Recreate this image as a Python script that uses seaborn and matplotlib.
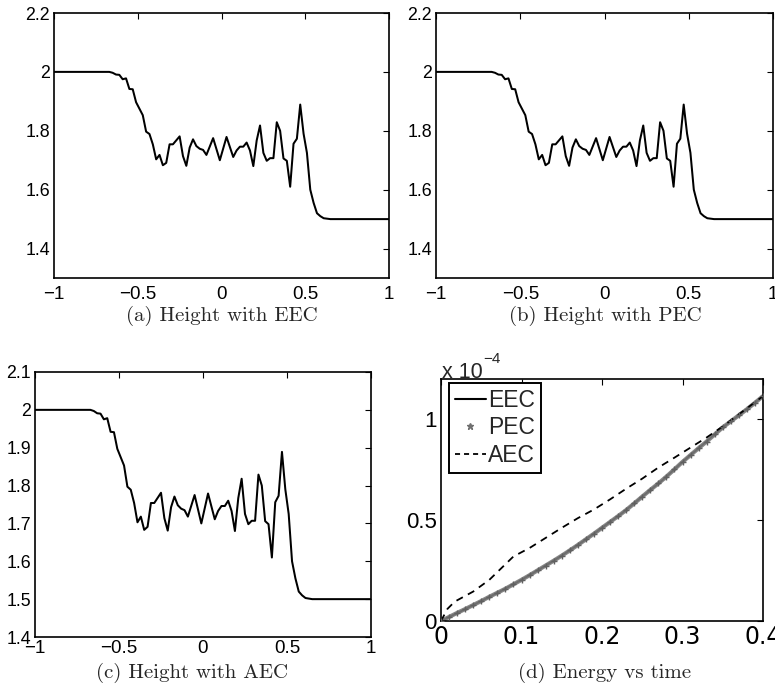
import numpy as np
import pandas as pd
import matplotlib
matplotlib.use("Agg")
import matplotlib.pyplot as plt
from matplotlib.lines import Line2D
import seaborn as sns

# ---------------- data ----------------
# height profile (same for EEC / PEC / AEC panels)
x_pos = [-1.00, -0.67, -0.65, -0.63, -0.61, -0.59, -0.57, -0.55, -0.53, -0.51,
         -0.49, -0.47, -0.45, -0.43, -0.41, -0.39, -0.37, -0.35, -0.33, -0.31,
         -0.29, -0.25, -0.23, -0.21, -0.19, -0.17, -0.15, -0.13, -0.11, -0.09,
         -0.05, -0.01, 0.03, 0.07, 0.09, 0.11, 0.13, 0.15, 0.17, 0.19,
         0.21, 0.23, 0.25, 0.27, 0.29, 0.31, 0.33, 0.35, 0.37, 0.39,
         0.41, 0.43, 0.45, 0.47, 0.49, 0.51, 0.53, 0.55, 0.57, 0.59,
         0.61, 0.65, 1.00]
height = [2.000, 2.000, 1.997, 1.991, 1.990, 1.975, 1.978, 1.942, 1.941, 1.897,
          1.875, 1.853, 1.797, 1.789, 1.754, 1.703, 1.718, 1.683, 1.691, 1.754,
          1.754, 1.781, 1.714, 1.681, 1.743, 1.771, 1.748, 1.739, 1.735, 1.718,
          1.775, 1.700, 1.779, 1.711, 1.733, 1.746, 1.746, 1.760, 1.733, 1.680,
          1.767, 1.818, 1.725, 1.698, 1.707, 1.707, 1.829, 1.800, 1.706, 1.698,
          1.610, 1.756, 1.773, 1.889, 1.790, 1.725, 1.600, 1.555, 1.520, 1.510,
          1.503, 1.500, 1.500]

# energy vs time (units of 1e-4)
t_eec = [0.0, 0.025, 0.05, 0.075, 0.1, 0.125, 0.15, 0.175, 0.2, 0.225,
         0.25, 0.275, 0.3, 0.325, 0.35, 0.375, 0.4]
e_eec = [0.000, 0.049, 0.099, 0.150, 0.204, 0.263, 0.324, 0.391, 0.462, 0.535,
         0.617, 0.698, 0.789, 0.874, 0.960, 1.035, 1.115]

t_pec = [0.00, 0.01, 0.02, 0.03, 0.04, 0.05, 0.06, 0.07, 0.08, 0.09,
         0.10, 0.11, 0.12, 0.13, 0.14, 0.15, 0.16, 0.17, 0.18, 0.19,
         0.20, 0.21, 0.22, 0.23, 0.24, 0.25, 0.26, 0.27, 0.28, 0.29,
         0.30, 0.31, 0.32, 0.33, 0.34, 0.35, 0.36, 0.37, 0.38, 0.39, 0.40]
e_pec = [0.000, 0.020, 0.040, 0.059, 0.079, 0.099, 0.120, 0.140, 0.160, 0.182,
         0.204, 0.227, 0.251, 0.275, 0.299, 0.324, 0.350, 0.377, 0.405, 0.433,
         0.462, 0.491, 0.520, 0.550, 0.583, 0.617, 0.650, 0.682, 0.716, 0.752,
         0.789, 0.823, 0.857, 0.890, 0.925, 0.960, 0.990, 1.020, 1.050, 1.082, 1.115]

t_aec = [0.0, 0.008, 0.017, 0.04, 0.06, 0.09, 0.11, 0.13, 0.15, 0.17,
         0.19, 0.21, 0.23, 0.25, 0.27, 0.29, 0.31, 0.33, 0.35, 0.37, 0.4]
e_aec = [0.000, 0.060, 0.096, 0.146, 0.204, 0.320, 0.362, 0.412, 0.462, 0.510,
         0.553, 0.603, 0.656, 0.706, 0.761, 0.810, 0.860, 0.910, 0.965, 1.025, 1.115]

captions = ["(a) Height with EEC", "(b) Height with PEC",
            "(c) Height with AEC", "(d) Energy vs time"]

# ---------------- style ----------------
sns.set_theme(style="white")
plt.rcParams.update({
    "font.family": ["Liberation Sans", "DejaVu Sans"],
    "xtick.direction": "in", "ytick.direction": "in",
    "xtick.top": True, "ytick.right": True,
    "xtick.major.size": 4, "ytick.major.size": 4,
    "xtick.major.width": 0.8, "ytick.major.width": 0.8,
    "xtick.color": "black", "ytick.color": "black",
    "axes.edgecolor": "black", "axes.linewidth": 1.2,
})

W, H = 775, 692
fig = plt.figure(figsize=(W / 100, H / 100), dpi=100)


def add_ax(l, t, r, b):
    return fig.add_axes([l / W, 1 - b / H, (r - l) / W, (b - t) / H])


ax_a = add_ax(54, 13, 389, 278)
ax_b = add_ax(436, 13, 773, 278)
ax_c = add_ax(35, 372, 371, 637)
ax_d = add_ax(441, 379, 763, 621)

df_h = pd.DataFrame({"x": x_pos, "h": height})

xt = [-1, -0.5, 0, 0.5, 1]
xtl = ["\u22121", "\u22120.5", "0", "0.5", "1"]

for ax in (ax_a, ax_b, ax_c):
    sns.lineplot(data=df_h, x="x", y="h", ax=ax, color="black", lw=1.45)
    ax.set_xlim(-1, 1)
    ax.set_xticks(xt)
    ax.set_xticklabels(xtl)
    ax.set_xlabel("")
    ax.set_ylabel("")

for ax in (ax_a, ax_b):
    ax.set_ylim(1.3, 2.2)
    ax.set_yticks([1.4, 1.6, 1.8, 2.0, 2.2])
    ax.set_yticklabels(["1.4", "1.6", "1.8", "2", "2.2"])
    ax.tick_params(axis="x", labelsize=13.5, pad=6)
    ax.tick_params(axis="y", labelsize=12.8, pad=3)

ax_c.set_ylim(1.4, 2.1)
ax_c.set_yticks([1.4, 1.5, 1.6, 1.7, 1.8, 1.9, 2.0, 2.1])
ax_c.set_yticklabels(["1.4", "1.5", "1.6", "1.7", "1.8", "1.9", "2", "2.1"])
ax_c.tick_params(axis="x", labelsize=13.5, pad=2)
ax_c.tick_params(axis="y", labelsize=12.8, pad=3)

# energy panel
sns.lineplot(x=t_eec, y=e_eec, ax=ax_d, color="black", lw=1.4)
sns.lineplot(x=t_pec, y=e_pec, ax=ax_d, color="#7a7a7a", lw=3.0, alpha=0.9)
sns.scatterplot(x=t_pec, y=e_pec, ax=ax_d, color="#606060", marker="+",
                s=22, linewidth=1.0, zorder=3)
sns.lineplot(x=t_aec, y=e_aec, ax=ax_d, color="black", lw=1.3,
             linestyle=(0, (4.0, 3.2)))
ax_d.set_xlim(0, 0.4)
ax_d.set_ylim(0, 1.2)
ax_d.set_xticks([0, 0.1, 0.2, 0.3, 0.4])
ax_d.set_xticklabels(["0", "0.1", "0.2", "0.3", "0.4"])
ax_d.set_yticks([0, 0.5, 1.0])
ax_d.set_yticklabels(["0", "0.5", "1"])
ax_d.tick_params(axis="x", labelsize=17, pad=3)
ax_d.tick_params(axis="y", labelsize=16, pad=3)
for lab in ax_d.get_xticklabels():
    lab.set_family("DejaVu Sans")
ax_d.set_xlabel("")
ax_d.set_ylabel("")

handles = [
    Line2D([], [], color="black", lw=1.5),
    Line2D([], [], color="#707070", marker="*", markersize=5, linestyle="none"),
    Line2D([], [], color="black", lw=1.3, linestyle=(0, (2.8, 2.2))),
]
leg = ax_d.legend(handles, ["EEC", "PEC", "AEC"], loc="upper left",
                  bbox_to_anchor=(0.025, 0.983), borderaxespad=0,
                  fontsize=16.5, handlelength=1.35, handletextpad=0.1,
                  borderpad=0.25, labelspacing=0.2, numpoints=1,
                  fancybox=False, framealpha=1, edgecolor="black")
leg.get_frame().set_linewidth(1.4)

# offset label "x 10^-4"
fig.text(442 / W, 1 - 378 / H, "x 10", fontsize=15.5, ha="left", va="baseline")
fig.text(483 / W, 1 - 363 / H, "\u22124", fontsize=11, ha="left", va="baseline")

# captions
cap_pos = [(222, 316), (605, 316), (192, 673), (605, 673)]
for (cx, cy), txt in zip(cap_pos, captions):
    fig.text(cx / W, 1 - cy / H, txt, fontsize=15, family="cmr10",
             ha="center", va="center")

fig.savefig("out.png", dpi=100)
